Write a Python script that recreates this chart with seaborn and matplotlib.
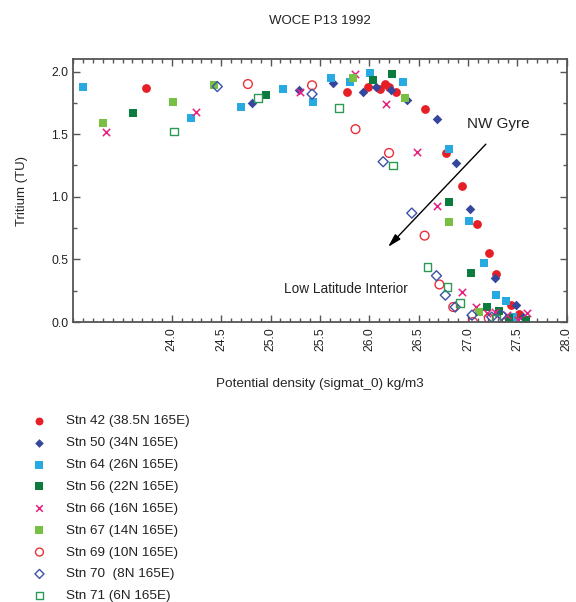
import numpy as np
import pandas as pd
import matplotlib
matplotlib.use('Agg')
import matplotlib.pyplot as plt
import seaborn as sns
from matplotlib.ticker import FixedLocator, MultipleLocator

# station data: sigma_0 vs tritium (TU)
stn42_sigma = [23.74, 25.77, 25.99, 26.11, 26.16, 26.20, 26.27, 26.56, 26.78, 26.94, 27.09, 27.21, 27.28, 27.43, 27.52]
stn42_trit = [1.87, 1.84, 1.875, 1.86, 1.90, 1.88, 1.835, 1.70, 1.35, 1.09, 0.78, 0.55, 0.38, 0.14, 0.065]

stn50_sigma = [24.81, 25.29, 25.63, 25.94, 26.07, 26.22, 26.38, 26.69, 26.88, 27.02, 27.27, 27.49, 27.56]
stn50_trit = [1.75, 1.85, 1.91, 1.84, 1.88, 1.85, 1.77, 1.62, 1.27, 0.90, 0.35, 0.14, 0.04]

stn64_sigma = [23.10, 24.19, 24.70, 25.13, 25.43, 25.61, 25.80, 26.01, 26.34, 26.81, 27.01, 27.16, 27.28, 27.38, 27.46]
stn64_trit = [1.875, 1.63, 1.72, 1.86, 1.755, 1.95, 1.92, 1.99, 1.92, 1.38, 0.81, 0.47, 0.22, 0.17, 0.04]

stn56_sigma = [23.61, 24.95, 26.04, 26.23, 26.81, 27.03, 27.19, 27.31, 27.41, 27.59]
stn56_trit = [1.67, 1.81, 1.93, 1.98, 0.96, 0.39, 0.12, 0.09, 0.03, 0.02]

stn66_sigma = [23.33, 24.24, 25.30, 25.85, 26.17, 26.48, 26.69, 26.94, 27.08, 27.19, 27.27, 27.33, 27.39, 27.51, 27.60]
stn66_trit = [1.52, 1.68, 1.84, 1.98, 1.74, 1.36, 0.93, 0.24, 0.12, 0.07, 0.08, 0.02, 0.055, 0.02, 0.075]

stn67_sigma = [23.30, 24.01, 24.43, 25.83, 26.36, 26.81, 27.11]
stn67_trit = [1.59, 1.76, 1.89, 1.95, 1.79, 0.80, 0.08]

stn69_sigma = [24.77, 25.42, 25.86, 26.20, 26.56, 26.71, 26.85, 27.05, 27.21]
stn69_trit = [1.90, 1.89, 1.54, 1.35, 0.69, 0.30, 0.12, 0.00, 0.03]

stn70_sigma = [24.46, 25.42, 26.14, 26.43, 26.68, 26.77, 26.87, 27.04, 27.24, 27.34]
stn70_trit = [1.88, 1.82, 1.28, 0.87, 0.37, 0.215, 0.12, 0.055, 0.04, 0.055]

stn71_sigma = [24.02, 24.87, 25.69, 26.24, 26.59, 26.79, 26.92, 27.28]
stn71_trit = [1.52, 1.79, 1.71, 1.25, 0.44, 0.28, 0.15, 0.03]

labels = ['Stn 42 (38.5N 165E)', 'Stn 50 (34N 165E)', 'Stn 64 (26N 165E)',
          'Stn 56 (22N 165E)', 'Stn 66 (16N 165E)', 'Stn 67 (14N 165E)',
          'Stn 69 (10N 165E)', 'Stn 70  (8N 165E)', 'Stn 71 (6N 165E)']

sigma = [stn42_sigma, stn50_sigma, stn64_sigma, stn56_sigma, stn66_sigma,
         stn67_sigma, stn69_sigma, stn70_sigma, stn71_sigma]
trit = [stn42_trit, stn50_trit, stn64_trit, stn56_trit, stn66_trit,
        stn67_trit, stn69_trit, stn70_trit, stn71_trit]

df = pd.concat([pd.DataFrame({'sigma': s, 'tritium': t, 'station': lab})
                for s, t, lab in zip(sigma, trit, labels)], ignore_index=True)

# marker, colour, filled?, size
styles = {
    labels[0]: ('o', '#e61f26', True, 40),
    labels[1]: ('D', '#34479c', True, 24),
    labels[2]: ('s', '#27a9e1', True, 32),
    labels[3]: ('s', '#0b7b3e', True, 32),
    labels[4]: ('x', '#e8207f', False, 28),
    labels[5]: ('s', '#78c043', True, 32),
    labels[6]: ('o', '#e8313a', False, 40),
    labels[7]: ('D', '#3a52a8', False, 26),
    labels[8]: ('s', '#2c9a55', False, 30),
}

sns.set_style('ticks')
plt.rcParams['font.family'] = ['Liberation Sans', 'DejaVu Sans']
plt.rcParams['text.color'] = '#222222'

fig, ax = plt.subplots(figsize=(5.76, 6.02), dpi=100)
fig.subplots_adjust(left=0.127, right=0.984, bottom=0.465, top=0.902)

for lab in labels:
    m, c, filled, s = styles[lab]
    sub = df[df.station == lab]
    if m == 'x':
        sns.scatterplot(x='sigma', y='tritium', data=sub, marker=m, color=c,
                        s=s, linewidth=1.1, ax=ax, label=lab)
    elif filled:
        sns.scatterplot(x='sigma', y='tritium', data=sub, marker=m, color=c,
                        s=s, linewidth=0, ax=ax, label=lab)
    else:
        sns.scatterplot(x='sigma', y='tritium', data=sub, marker=m, color=c,
                        facecolors='none', edgecolor=c, s=s, linewidth=1.0,
                        ax=ax, label=lab)

ax.set_xlim(23.0, 28.0)
ax.set_ylim(0.0, 2.1)
ax.xaxis.set_major_locator(FixedLocator(np.arange(24.0, 28.01, 0.5)))
ax.xaxis.set_minor_locator(MultipleLocator(0.1))
ax.yaxis.set_major_locator(MultipleLocator(0.5))
ax.yaxis.set_minor_locator(MultipleLocator(0.25))
ax.xaxis.set_major_formatter(plt.FormatStrFormatter('%.1f'))
ax.yaxis.set_major_formatter(plt.FormatStrFormatter('%.1f'))
ax.tick_params(which='both', direction='in', top=True, right=True,
               colors='#555555', labelcolor='#222222', width=1)
ax.tick_params(which='major', length=5)
ax.tick_params(which='minor', length=3)
ax.tick_params(axis='x', labelrotation=90, labelsize=8.8, pad=4)
ax.tick_params(axis='y', labelsize=8.8)
for sp in ax.spines.values():
    sp.set_color('#555555')
    sp.set_linewidth(1.3)

ax.set_xlabel('Potential density (sigmat_0) kg/m3', fontsize=9.7, labelpad=19)
ax.set_ylabel('Tritium (TU)', fontsize=9.5, labelpad=17)
ax.set_title('WOCE P13 1992', fontsize=9.5, pad=25)

ax.annotate('', xy=(26.19, 0.60), xytext=(27.18, 1.42),
            arrowprops=dict(arrowstyle='-|>,head_length=0.8,head_width=0.22',
                            color='black', lw=1, shrinkA=0, shrinkB=0))
ax.text(27.31, 1.58, 'NW Gyre', fontsize=11, ha='center', va='center')
ax.text(25.14, 0.263, 'Low Latitude Interior', fontsize=9.8, ha='left', va='center')

handles, labs = ax.get_legend_handles_labels()
ax.get_legend().remove()
fig.legend(handles, labs, loc='upper left', bbox_to_anchor=(26 / 576, 1 - 415 / 602),
           frameon=False, fontsize=9.7, borderpad=0, borderaxespad=0,
           labelspacing=0.7, handletextpad=0.95, markerscale=0.9)

plt.savefig('out.png', dpi=100)
